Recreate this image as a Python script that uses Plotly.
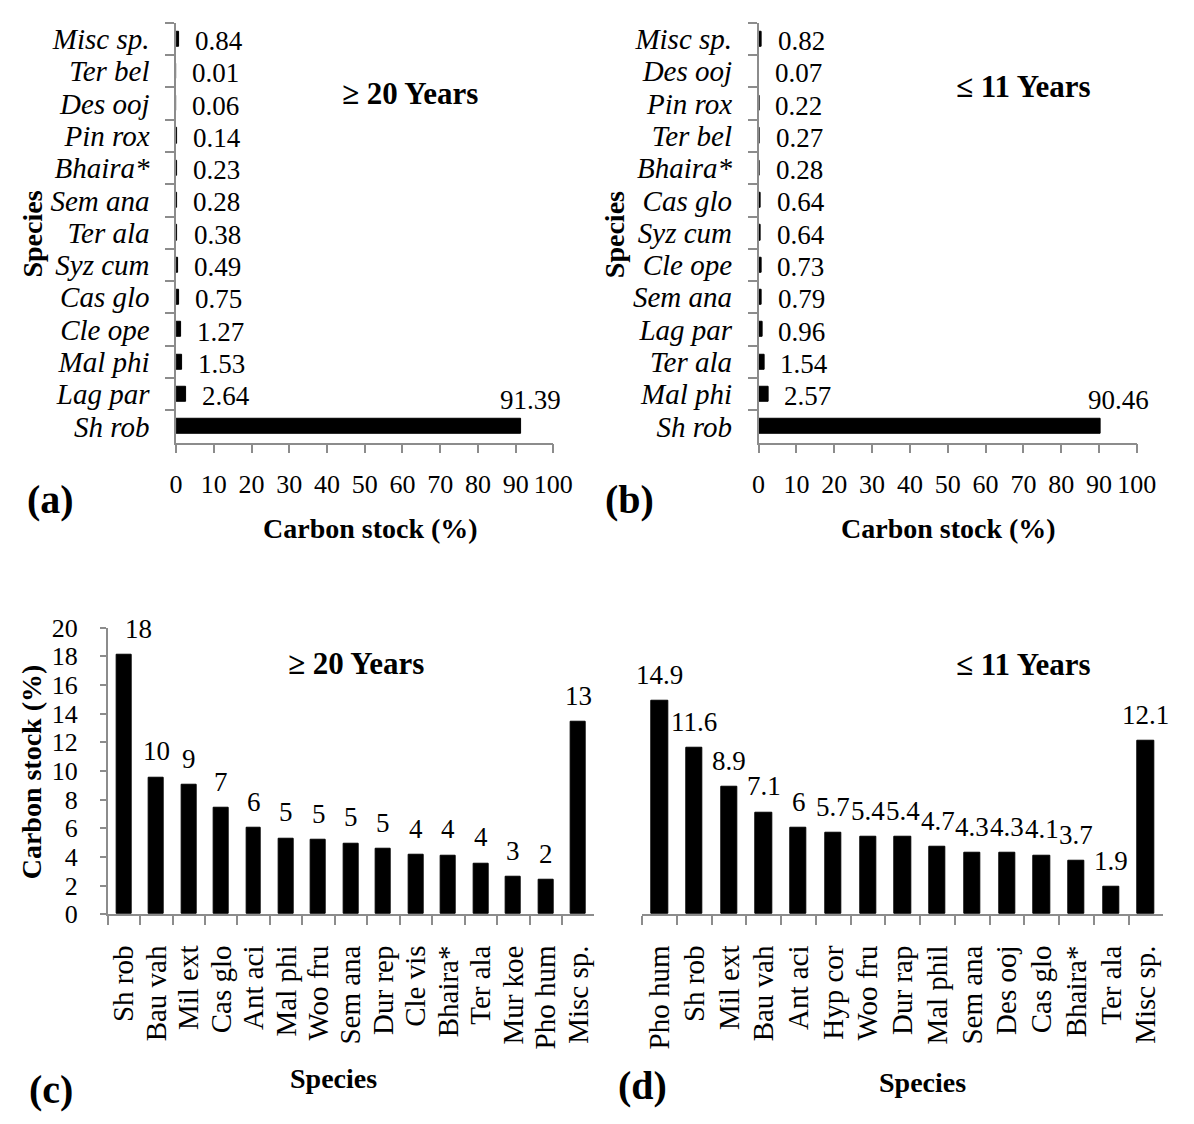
import plotly.graph_objects as go

W, H = 1194, 1124
FONT = "Liberation Serif"
GREY = "#8c8c8c"

# ---- Data ----
cats_a = ["Misc sp.", "Ter bel", "Des ooj", "Pin rox", "Bhaira*", "Sem ana", "Ter ala",
          "Syz cum", "Cas glo", "Cle ope", "Mal phi", "Lag par", "Sh rob"]
vals_a = [0.84, 0.01, 0.06, 0.14, 0.23, 0.28, 0.38, 0.49, 0.75, 1.27, 1.53, 2.64, 91.39]

cats_b = ["Misc sp.", "Des ooj", "Pin rox", "Ter bel", "Bhaira*", "Cas glo", "Syz cum",
          "Cle ope", "Sem ana", "Lag par", "Ter ala", "Mal phi", "Sh rob"]
vals_b = [0.82, 0.07, 0.22, 0.27, 0.28, 0.64, 0.64, 0.73, 0.79, 0.96, 1.54, 2.57, 90.46]

cats_c = ["Sh rob", "Bau vah", "Mil ext", "Cas glo", "Ant aci", "Mal phi", "Woo fru",
          "Sem ana", "Dur rep", "Cle vis", "Bhaira*", "Ter ala", "Mur koe", "Pho hum", "Misc sp."]
vals_c = [18.1, 9.55, 9.05, 7.4, 6.05, 5.3, 5.2, 4.95, 4.55, 4.15, 4.1, 3.55, 2.6, 2.4, 13.45]
labels_c = ["18", "10", "9", "7", "6", "5", "5", "5", "5", "4", "4", "4", "3", "2", "13"]

cats_d = ["Pho hum", "Sh rob", "Mil ext", "Bau vah", "Ant aci", "Hyp cor", "Woo fru",
          "Dur rap", "Mal phil", "Sem ana", "Des ooj", "Cas glo", "Bhaira*", "Ter ala", "Misc sp."]
vals_d = [14.9, 11.6, 8.9, 7.1, 6.0, 5.7, 5.4, 5.4, 4.7, 4.3, 4.3, 4.1, 3.7, 1.9, 12.1]

xticks_ab = [0, 10, 20, 30, 40, 50, 60, 70, 80, 90, 100]
yticks_c = [0, 2, 4, 6, 8, 10, 12, 14, 16, 18, 20]


def px_x(p):
    return p / W


def px_y(p):
    return 1 - p / H


fig = go.Figure()

bar_style = dict(marker=dict(color="black", line=dict(color="black", width=1)),
                 showlegend=False, hoverinfo="skip")

fig.add_trace(go.Bar(x=vals_a, y=cats_a, orientation="h", width=0.47,
                     xaxis="x", yaxis="y", **bar_style))
fig.add_trace(go.Bar(x=vals_b, y=cats_b, orientation="h", width=0.47,
                     xaxis="x2", yaxis="y2", **bar_style))
fig.add_trace(go.Bar(x=cats_c, y=vals_c, width=0.46,
                     xaxis="x3", yaxis="y3", **bar_style))
fig.add_trace(go.Bar(x=cats_d, y=vals_d, width=0.47,
                     xaxis="x4", yaxis="y4", **bar_style))

tickfont_num = dict(family=FONT, size=26, color="black")
tickfont_it = dict(family=FONT, size=29, color="black", style="italic")
tickfont_cat = dict(family=FONT, size=29, color="black")

line_common = dict(showline=True, linecolor=GREY, linewidth=1.5, ticks="outside",
                   tickcolor=GREY, tickwidth=1.5, showgrid=False, zeroline=False)

top_dom = [px_y(440), px_y(9)]
bot_dom = [px_y(924), px_y(630)]

n_ab = len(cats_a)
n_cd = len(cats_c)

fig.update_layout(
    width=W, height=H, margin=dict(l=0, r=0, t=0, b=0),
    paper_bgcolor="white", plot_bgcolor="white",
    font=dict(family=FONT, color="black"),
    bargap=0,
    xaxis=dict(domain=[px_x(173), px_x(559)], anchor="y", range=[0, 100],
               tickvals=xticks_ab, ticklen=9, tickfont=tickfont_num,
               ticklabelstandoff=8, **line_common),
    yaxis=dict(domain=top_dom, anchor="x", type="category", categoryarray=cats_a,
               range=[n_ab - 0.5, -0.5], tickmode="linear", tick0=0, dtick=1,
               tickson="boundaries", ticklen=9,
               tickfont=tickfont_it, ticklabelstandoff=19, **line_common),
    xaxis2=dict(domain=[px_x(769), px_x(1156)], anchor="y2", range=[0, 100],
                tickvals=xticks_ab, ticklen=9, tickfont=tickfont_num,
                ticklabelstandoff=8, **line_common),
    yaxis2=dict(domain=top_dom, anchor="x2", type="category", categoryarray=cats_b,
                range=[n_ab - 0.5, -0.5], tickmode="linear", tick0=0, dtick=1,
                tickson="boundaries", ticklen=9,
                tickfont=tickfont_it, ticklabelstandoff=19, **line_common),
    xaxis3=dict(domain=[px_x(103), px_x(601)], anchor="y3", type="category",
                categoryarray=cats_c, range=[-0.5, n_cd - 0.5],
                tickmode="linear", tick0=0, dtick=1, tickson="boundaries", ticklen=9,
                tickangle=-90, tickfont=tickfont_cat, ticklabelstandoff=18, **line_common),
    yaxis3=dict(domain=bot_dom, anchor="x3", range=[0, 20], tickvals=yticks_c,
                ticklen=6, tickfont=tickfont_num, ticklabelstandoff=17, **line_common),
    xaxis4=dict(domain=[px_x(650), px_x(1183)], anchor="y4", type="category",
                categoryarray=cats_d, range=[-0.5, n_cd - 0.5],
                tickmode="linear", tick0=0, dtick=1, tickson="boundaries", ticklen=9,
                tickangle=-90, tickfont=tickfont_cat, ticklabelstandoff=18, **line_common),
    yaxis4=dict(domain=bot_dom, anchor="x4", range=[0, 20], showline=False,
                showticklabels=False, showgrid=False, zeroline=False, ticks=""),
)

ann = []
lab_font = dict(family=FONT, size=27, color="black")

# data labels for horizontal panels
for cats, vals, xr, yr, bigshift in [(cats_a, vals_a, "x", "y", 10), (cats_b, vals_b, "x2", "y2", 18)]:
    vmax = max(vals)
    for c, v in zip(cats, vals):
        if v == vmax:
            ann.append(dict(x=v, y=c, xref=xr, yref=yr, text=f"{v:.2f}", showarrow=False,
                            xanchor="center", yanchor="middle", xshift=bigshift, yshift=26,
                            font=lab_font))
        else:
            ann.append(dict(x=v, y=c, xref=xr, yref=yr, text=f"{v:.2f}", showarrow=False,
                            xanchor="left", yanchor="middle", xshift=14, yshift=-2,
                            font=lab_font))

vmax_c = max(vals_c)
for c, v, t in zip(cats_c, vals_c, labels_c):
    ann.append(dict(x=c, y=v, xref="x3", yref="y3", text=t, showarrow=False,
                    xanchor="center", yanchor="bottom", yshift=9,
                    xshift=15 if v == vmax_c else 0, font=lab_font))
for c, v in zip(cats_d, vals_d):
    ann.append(dict(x=c, y=v, xref="x4", yref="y4", text=f"{v:g}", showarrow=False,
                    xanchor="center", yanchor="bottom", yshift=9, font=lab_font))

bold = dict(family=FONT, size=28, color="black", weight="bold")
lbl = dict(family=FONT, size=40, color="black", weight="bold")
ttl = dict(family=FONT, size=31, color="black", weight="bold")


def paper_text(x, y, text, font, angle=0):
    return dict(x=px_x(x), y=px_y(y), xref="paper", yref="paper", text=text,
                showarrow=False, xanchor="center", yanchor="middle", font=font,
                textangle=angle)


ann += [
    paper_text(372, 528, "Carbon stock (%)", bold),
    paper_text(26, 226, "Species", bold, -90),
    paper_text(44, 498, "(a)", lbl),
    paper_text(412, 82, "≥ 20 Years", ttl),
    paper_text(963, 528, "Carbon stock (%)", bold),
    paper_text(621, 226, "Species", bold, -90),
    paper_text(637, 498, "(b)", lbl),
    paper_text(1040, 74, "≤ 11 Years", ttl),
    paper_text(26, 778, "Carbon stock (%)", bold, -90),
    paper_text(334, 1093, "Species", bold),
    paper_text(45, 1104, "(c)", lbl),
    paper_text(357, 667, "≥ 20 Years", ttl),
    paper_text(937, 1097, "Species", bold),
    paper_text(650, 1100, "(d)", lbl),
    paper_text(1040, 668, "≤ 11 Years", ttl),
]

fig.update_layout(annotations=ann)
fig.write_html("out.html")
